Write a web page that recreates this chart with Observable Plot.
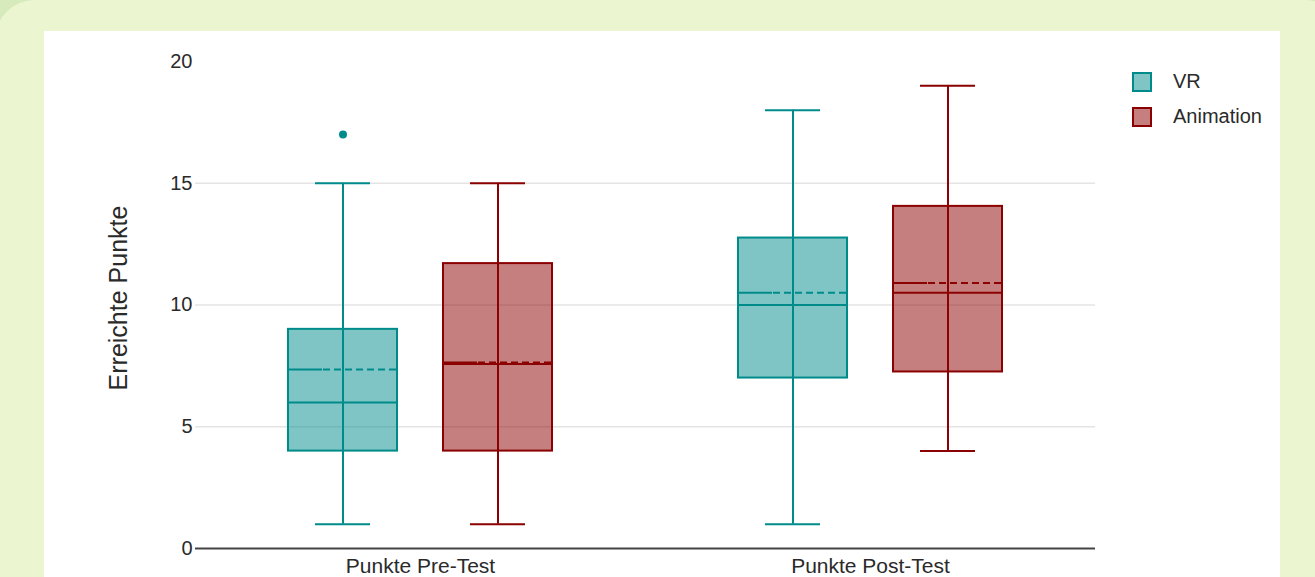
<!DOCTYPE html>
<html>
<head>
<meta charset="utf-8">
<script src="https://cdn.jsdelivr.net/npm/d3@7"></script>
<script src="https://cdn.jsdelivr.net/npm/@observablehq/plot@0.6"></script>
<style>
  html, body { margin: 0; padding: 0; }
  body { width: 1315px; height: 577px; overflow: hidden; position: relative; background: #d6eabb; font-family: "Liberation Sans", Arial, sans-serif; }
  #frame { position: absolute; left: -5px; top: 0; width: 1350px; height: 660px; border-radius: 40px; background: #ebf6d1; }
  #panel { position: absolute; left: 44px; top: 31px; width: 1236px; height: 546px; background: #fff; }
  #panel svg { overflow: visible; }
  #ytitle { position: absolute; left: 118px; top: 298px; transform: translate(-50%, -50%) rotate(-90deg); font-size: 25px; color: #2a2a2a; white-space: nowrap; }
  #legend { position: absolute; left: 1132px; top: 64px; font-size: 20px; color: #2a2a2a; }
  .item { display: flex; align-items: center; height: 35px; }
  .sw { width: 16px; height: 16px; border: 2px solid; margin-right: 21px; }
</style>
</head>
<body>
<div id="frame"></div>
<div id="panel"></div>
<div id="ytitle">Erreichte Punkte</div>
<div id="legend"></div>
<script>
// ---- data ----
const tests = ["Punkte Pre-Test", "Punkte Post-Test"];
const groups = ["VR", "Animation"];
const groupColors = ["#008b8b", "#8b0000"];
const yTicks = [0, 5, 10, 15, 20];

const boxTest = ["Punkte Pre-Test", "Punkte Pre-Test", "Punkte Post-Test", "Punkte Post-Test"];
const boxGroup = ["VR", "Animation", "VR", "Animation"];
const whiskerLow = [1, 1, 1, 4];
const quartile1 = [4, 4, 7, 7.25];
const medians = [6, 7.58, 10, 10.5];
const means = [7.35, 7.64, 10.5, 10.9];
const quartile3 = [9, 11.7, 12.75, 14.05];
const whiskerHigh = [15, 15, 18, 19];

const outlierTest = ["Punkte Pre-Test"];
const outlierGroup = ["VR"];
const outlierValue = [17];

// ---- tables ----
const rows = boxTest.map((t, i) => ({
  test: t, group: boxGroup[i], low: whiskerLow[i], q1: quartile1[i],
  median: medians[i], mean: means[i], q3: quartile3[i], high: whiskerHigh[i]
}));
const outliers = outlierTest.map((t, i) => ({test: t, group: outlierGroup[i], value: outlierValue[i]}));

const chart = Plot.plot({
  width: 1236,
  height: 546,
  marginLeft: 151,
  marginRight: 185,
  marginTop: 30,
  marginBottom: 29,
  style: {fontFamily: "'Liberation Sans', Arial, sans-serif", fontSize: "20px", color: "#2a2a2a", background: "transparent", overflow: "visible"},
  fx: {domain: tests, padding: 0, label: null},
  x: {domain: groups, paddingInner: 0.295, paddingOuter: 0.59, align: 0.5, axis: null},
  y: {domain: [0, 20], label: null},
  color: {domain: groups, range: groupColors},
  marks: [
    Plot.gridY([5, 10, 15], {stroke: "#e4e4e4", strokeOpacity: 1, strokeWidth: 1.5}),
    Plot.ruleY([0], {stroke: "#444", strokeWidth: 2}),
    Plot.ruleX(rows, {fx: "test", x: "group", y1: "low", y2: "high", stroke: "group", strokeWidth: 2}),
    Plot.tickY(rows, {fx: "test", x: "group", y: "low", stroke: "group", strokeWidth: 2, insetLeft: 27, insetRight: 27}),
    Plot.tickY(rows, {fx: "test", x: "group", y: "high", stroke: "group", strokeWidth: 2, insetLeft: 27, insetRight: 27}),
    Plot.barY(rows, {fx: "test", x: "group", y1: "q1", y2: "q3", fill: "group", fillOpacity: 0.5, stroke: "group", strokeWidth: 2}),
    Plot.tickY(rows, {fx: "test", x: "group", y: "median", stroke: "group", strokeWidth: 2}),
    Plot.tickY(rows, {fx: "test", x: "group", y: "mean", stroke: "group", strokeWidth: 2, insetRight: 75}),
    Plot.tickY(rows, {fx: "test", x: "group", y: "mean", stroke: "group", strokeWidth: 2, insetLeft: 35, strokeDasharray: "7,4"}),
    Plot.dot(outliers, {fx: "test", x: "group", y: "value", fill: "group", r: 4}),
    Plot.axisY({ticks: yTicks, tickSize: 0, tickPadding: 3, fontSize: 20, label: null}),
    Plot.axisFx({anchor: "bottom", tickSize: 0, tickPadding: 10, fontSize: 21, label: null})
  ]
});
document.getElementById("panel").appendChild(chart);

// ---- legend ----
const legend = document.getElementById("legend");
groups.forEach((g, i) => {
  const item = document.createElement("div");
  item.className = "item";
  const sw = document.createElement("div");
  sw.className = "sw";
  sw.style.borderColor = groupColors[i];
  sw.style.background = d3.color(groupColors[i]).copy({opacity: 0.5}).formatRgb();
  const label = document.createElement("span");
  label.textContent = g;
  item.appendChild(sw);
  item.appendChild(label);
  legend.appendChild(item);
});
</script>
</body>
</html>
